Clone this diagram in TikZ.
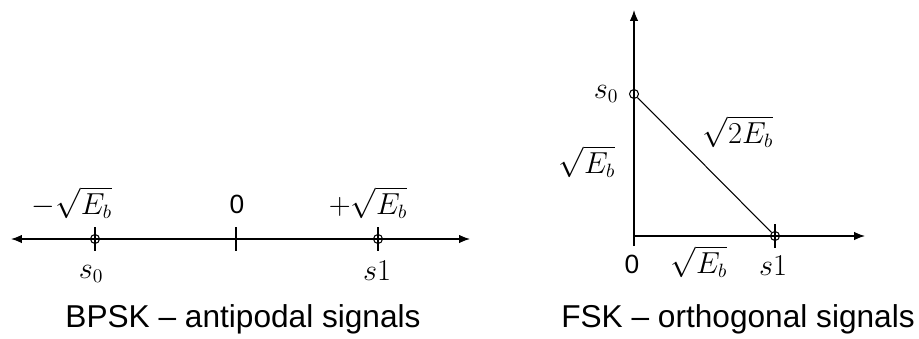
\documentclass[tikz,border=0pt]{standalone}
\usepackage{fontspec}
\setmainfont{Liberation Sans}
\usetikzlibrary{arrows.meta,positioning}
\tikzset{
  axis/.style={line width=0.7pt,draw=black},
  axar/.style={axis,-{Latex[length=2.2mm,width=1.7mm]}},
  sigpt/.style={circle,draw=black,line width=0.6pt,inner sep=0pt,minimum size=1.8mm},
  lbl/.style={anchor=base,inner sep=0pt,font=\fontsize{16}{18}\selectfont},
  num/.style={anchor=base,inner sep=0pt,font=\fontsize{15}{17}\selectfont},
  ttl/.style={anchor=base,inner sep=0pt,font=\fontsize{18}{21}\selectfont},
}

\begin{document}
\begin{tikzpicture}[x=0.02cm,y=-0.02cm]
  \useasboundingbox (0,0) rectangle (919,338);
  % BPSK: one axis, two antipodal points
  \coordinate (bl) at (11,239);
  \coordinate (br) at (470,239);
  \coordinate (bz) at (236,239);
  \draw[axis,{Latex[length=2.2mm,width=1.7mm]}-{Latex[length=2.2mm,width=1.7mm]}] (bl) -- (br);
  \node[sigpt] (bs0) at (95,239) {};
  \node[sigpt] (bs1) at (378,239) {};
  \foreach \p in {bs0,bz,bs1}
    \draw[axis] (\p.center) ++(0,-12) -- ++(0,24);
  \node[lbl] (bneg) at (72,214) {$\displaystyle -\sqrt{E_b}$};
  \node[num] (bzero) at (237,213) {0};
  \node[lbl] (bpos) at (368,214) {$\displaystyle +\sqrt{E_b}$};
  \node[lbl] (bs0l) at (91,278) {$s_0$};
  \node[lbl] (bs1l) at (377,280) {$s1$};
  \node[ttl] (bttl) at (243,327) {BPSK -- antipodal signals};
  % FSK: two orthogonal axes
  \coordinate (fo) at (634,236);
  \coordinate (fb) at (634,246);
  \coordinate (fy) at (634,10);
  \coordinate (fx) at (865,236);
  \draw[axar] (fb) -- (fy);
  \draw[axar] (fo) -- (fx);
  \node[sigpt] (fs0) at (634,94) {};
  \node[sigpt] (fs1) at (775,236) {};
  \draw[line width=0.6pt] (fs0) -- (fs1);
  \foreach \p in {fs0,fs1}
    \draw[axis] (\p.center) ++(0,-12) -- ++(0,24);
  \draw[line width=1.3pt] (fo) -- ++(0,-10);
  \node[lbl] (fs0l) at (606,98) {$s_0$};
  \node[lbl] (fdiag) at (738,143) {$\displaystyle\sqrt{2E_b}$};
  \node[lbl] (fleft) at (587,173) {$\displaystyle\sqrt{E_b}$};
  \node[num] (fzero) at (632,273) {0};
  \node[lbl] (fbot) at (699,273) {$\displaystyle\sqrt{E_b}$};
  \node[lbl] (fs1l) at (773,275) {$s1$};
  \node[ttl] (fttl) at (738,327) {FSK -- orthogonal signals};
\end{tikzpicture}
\end{document}
